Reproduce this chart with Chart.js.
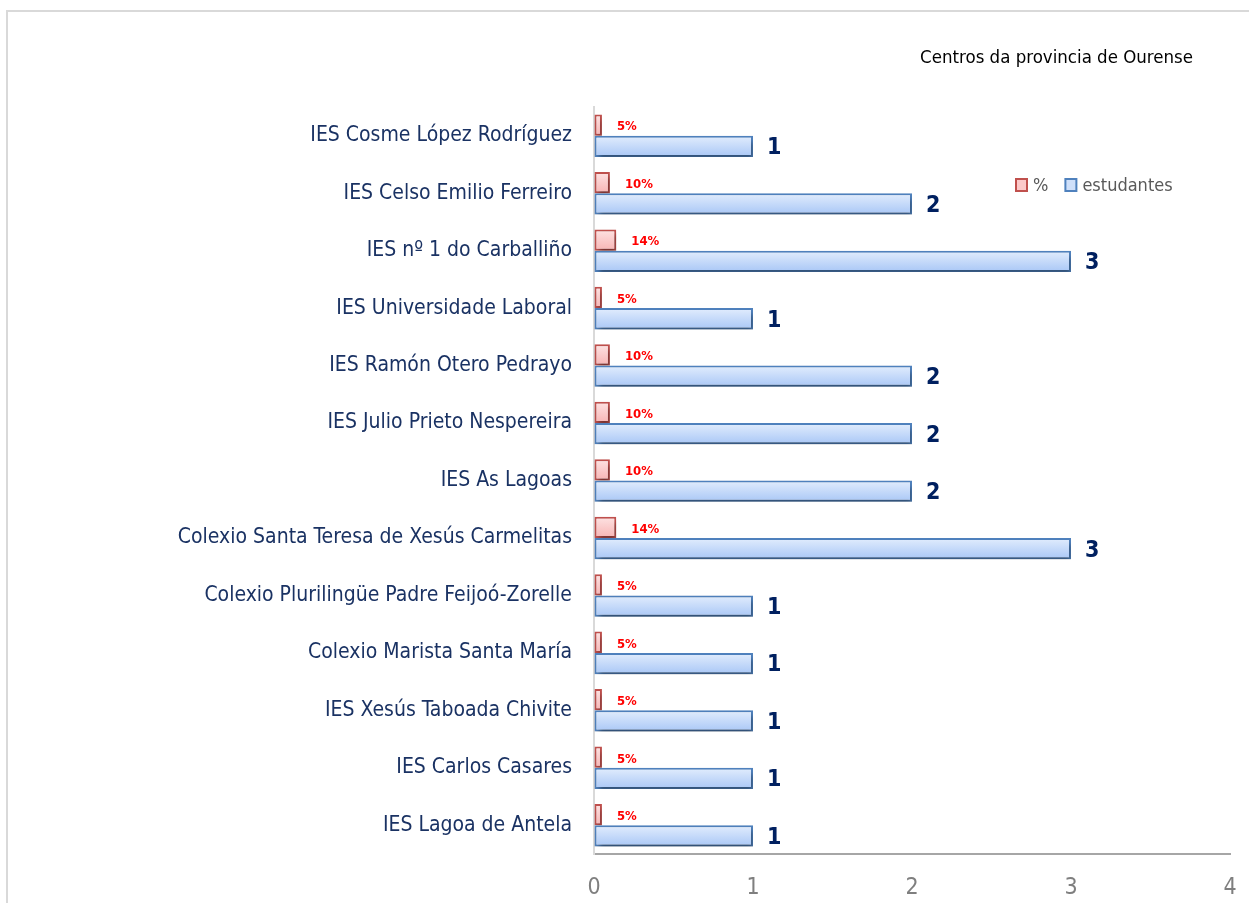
<!DOCTYPE html>
<html>
<head>
<meta charset="utf-8">
<script src="https://cdn.jsdelivr.net/npm/chart.js@4"></script>
<style>
  html, body { margin: 0; padding: 0; background: #fff; overflow: hidden; }
  #frame { position: absolute; left: 6px; top: 10px; width: 1270px; height: 920px; border: 2px solid #d9d9d9; }
  #myChart { position: absolute; left: 0; top: 0; }
</style>
</head>
<body>
<div id="frame"></div>
<canvas id="myChart" width="1249" height="903"></canvas>
<script>
const centros = [
    'IES Cosme López Rodríguez',
    'IES Celso Emilio Ferreiro',
    'IES nº 1 do Carballiño',
    'IES Universidade Laboral',
    'IES Ramón Otero Pedrayo',
    'IES Julio Prieto Nespereira',
    'IES As Lagoas',
    'Colexio Santa Teresa de Xesús Carmelitas',
    'Colexio Plurilingüe Padre Feijoó-Zorelle',
    'Colexio Marista Santa María',
    'IES Xesús Taboada Chivite',
    'IES Carlos Casares',
    'IES Lagoa de Antela'
];
const estudantes = [1, 2, 3, 1, 2, 2, 2, 3, 1, 1, 1, 1, 1];
const porcentaxe = [0.05, 0.10, 0.14, 0.05, 0.10, 0.10, 0.10, 0.14, 0.05, 0.05, 0.05, 0.05, 0.05];
const xTicks = [0, 1, 2, 3, 4];
const titulo = 'Centros da provincia de Ourense';

const FONT = "'Liberation Sans Narrow', 'DejaVu Sans Condensed', sans-serif";
const ctx = document.getElementById('myChart').getContext('2d');

// degradado vertical por barra (arriba claro, abaixo máis escuro)
function barGradient(c, top, light, dark, fallback) {
    const y = c.chart.scales.y;
    if (c.type !== 'data' || !y) return fallback;
    const center = y.getPixelForValue(c.dataIndex);
    const half = y.height / centros.length * 0.37;
    if (!isFinite(center) || !isFinite(half) || half <= 0) return fallback;
    const y0 = top ? center - half : center;
    const y1 = top ? center : center + half;
    const g = c.chart.ctx.createLinearGradient(0, y0, 0, y1);
    g.addColorStop(0, light);
    g.addColorStop(1, dark);
    return g;
}

const shadowPlugin = {
    id: 'shadow',
    beforeDatasetsDraw(chart) {
        const c = chart.ctx;
        c.save();
        c.shadowColor = 'rgba(0,0,0,0.4)';
        c.shadowBlur = 5;
        c.shadowOffsetX = 2;
        c.shadowOffsetY = 4;
    },
    afterDatasetsDraw(chart) {
        chart.ctx.restore();
    }
};

const labelsPlugin = {
    id: 'valueLabels',
    afterDatasetsDraw(chart) {
        const c = chart.ctx;
        c.save();
        c.textAlign = 'left';
        c.textBaseline = 'middle';
        chart.getDatasetMeta(0).data.forEach((bar, i) => {
            c.fillStyle = '#ff0000';
            c.font = `bold 13px ${FONT}`;
            c.fillText(Math.round(porcentaxe[i] * 100) + '%', bar.x + 15, bar.y + 2);
        });
        chart.getDatasetMeta(1).data.forEach((bar, i) => {
            c.fillStyle = '#002060';
            c.font = `bold 23px ${FONT}`;
            c.fillText(String(estudantes[i]), bar.x + 14, bar.y + 2);
        });
        c.restore();
    }
};

const titleLegendPlugin = {
    id: 'titleLegend',
    afterDraw(chart) {
        const c = chart.ctx;
        c.save();
        c.fillStyle = '#000';
        c.font = `18.5px ${FONT}`;
        c.textAlign = 'right';
        c.textBaseline = 'middle';
        c.fillText(titulo, 1193, 58);

        // lenda
        c.font = `18px ${FONT}`;
        c.textAlign = 'left';
        const items = [
            { text: '%', fill: '#fcc9c9', stroke: '#c0504d' },
            { text: 'estudantes', fill: '#cfe0fa', stroke: '#4f81bd' }
        ];
        let x = 1016;
        const ly = 185;
        items.forEach(it => {
            c.fillStyle = it.fill;
            c.strokeStyle = it.stroke;
            c.lineWidth = 2;
            c.fillRect(x, ly - 6, 11, 12);
            c.strokeRect(x, ly - 6, 11, 12);
            c.fillStyle = '#595959';
            c.fillText(it.text, x + 17, ly + 1);
            x += 17 + c.measureText(it.text).width + 17;
        });
        c.restore();
    }
};

new Chart(ctx, {
    type: 'bar',
    data: {
        labels: centros,
        datasets: [
            {
                label: '%',
                data: porcentaxe,
                backgroundColor: c => barGradient(c, true, '#fde3e3', '#f8b4b4', '#fcc9c9'),
                borderColor: '#c0504d',
                borderWidth: 2,
                borderSkipped: false
            },
            {
                label: 'estudantes',
                data: estudantes,
                backgroundColor: c => barGradient(c, false, '#e2edfd', '#a9c7f6', '#cfe0fa'),
                borderColor: '#4f81bd',
                borderWidth: 2,
                borderSkipped: false
            }
        ]
    },
    options: {
        indexAxis: 'y',
        responsive: false,
        animation: false,
        categoryPercentage: 0.74,
        barPercentage: 1,
        layout: { padding: { top: 107, right: 19, left: 0, bottom: 0 } },
        plugins: {
            legend: { display: false },
            title: { display: false },
            tooltip: { enabled: false }
        },
        scales: {
            x: {
                min: 0,
                max: 4,
                afterBuildTicks: s => { s.ticks = xTicks.map(v => ({ value: v })); },
                afterFit: s => { s.height = 49; s.paddingLeft = 0; s.paddingRight = 0; },
                grid: { drawOnChartArea: false, drawTicks: false },
                border: { display: true, color: '#a6a6a6', width: 2 },
                ticks: { color: '#7f7f7f', padding: 20, font: { family: FONT, size: 23 } }
            },
            y: {
                afterFit: s => { s.width = 594; },
                grid: { drawOnChartArea: false, drawTicks: false },
                border: { display: true, color: '#d9d9d9', width: 2 },
                ticks: { color: '#1a3263', padding: 22, font: { family: FONT, size: 21 } }
            }
        }
    },
    plugins: [shadowPlugin, labelsPlugin, titleLegendPlugin]
});
</script>
</body>
</html>
